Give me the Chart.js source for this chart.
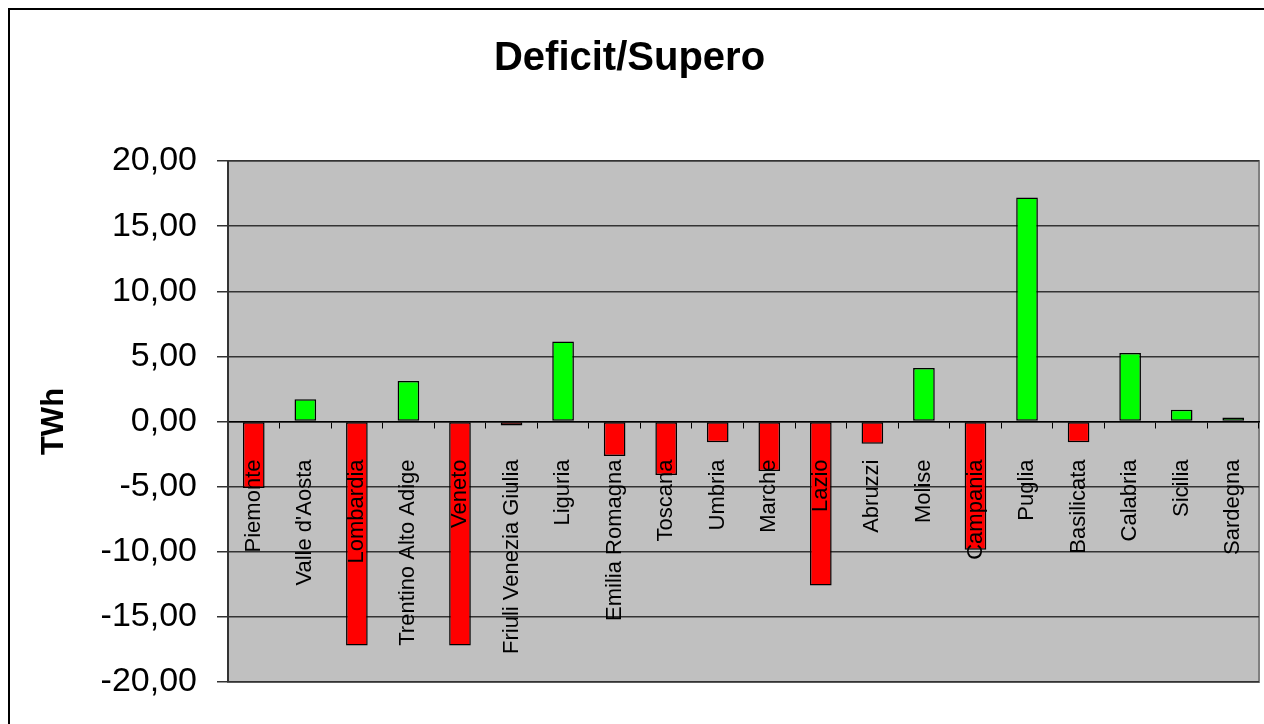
<!DOCTYPE html>
<html>
<head>
<meta charset="utf-8">
<script src="https://cdn.jsdelivr.net/npm/chart.js@4"></script>
<style>
  html, body { margin: 0; padding: 0; background: #fff; }
  #wrap { width: 1264px; height: 724px; }
</style>
</head>
<body>
<div id="wrap"><canvas id="myChart" width="1264" height="724"></canvas></div>
<script>
// Deficit/Supero per regione (TWh)
const regions = [
  "Piemonte", "Valle d'Aosta", "Lombardia", "Trentino Alto Adige", "Veneto",
  "Friuli Venezia Giulia", "Liguria", "Emilia Romagna", "Toscana", "Umbria",
  "Marche", "Lazio", "Abruzzi", "Molise", "Campania",
  "Puglia", "Basilicata", "Calabria", "Sicilia", "Sardegna"
];
const balance = [
  -5.1, 1.7, -17.2, 3.1, -17.2,
  -0.3, 6.15, -2.65, -4.1, -1.6,
  -3.8, -12.6, -1.7, 4.1, -9.85,
  17.2, -1.6, 5.25, 0.9, 0.3
];
const yTicks = [-20, -15, -10, -5, 0, 5, 10, 15, 20];

const FONT = "'Liberation Sans', Arial, sans-serif";

// grey plot background + outer frame, like the old spreadsheet chart
const frame = {
  id: "frame",
  beforeDraw(chart) {
    const { ctx, chartArea } = chart;
    ctx.save();
    ctx.fillStyle = "#fff";
    ctx.fillRect(0, 0, chart.width, chart.height);
    ctx.strokeStyle = "#000";
    ctx.lineWidth = 2;
    ctx.strokeRect(9, 9, chart.width + 10, chart.height + 10);
    ctx.fillStyle = "#c0c0c0";
    ctx.fillRect(chartArea.left, chartArea.top, chartArea.right - chartArea.left, chartArea.bottom - chartArea.top);
    ctx.strokeStyle = "#808080";
    ctx.lineWidth = 2;
    ctx.strokeRect(chartArea.left, chartArea.top, chartArea.right - chartArea.left, chartArea.bottom - chartArea.top);
    ctx.restore();
  }
};

new Chart(document.getElementById("myChart"), {
  type: "bar",
  data: {
    labels: regions,
    datasets: [{
      label: "Deficit/Supero",
      data: balance,
      backgroundColor: balance.map(v => v < 0 ? "#ff0000" : "#00ff00"),
      borderColor: "#000",
      borderWidth: 1.5,
      borderSkipped: false,
      barPercentage: 0.42,
      categoryPercentage: 1
    }]
  },
  options: {
    responsive: false,
    animation: false,
    layout: { padding: { top: 9, left: 0, right: 5, bottom: 42 } },
    plugins: {
      legend: { display: false },
      tooltip: { enabled: false },
      title: {
        display: true,
        text: "Deficit/Supero",
        color: "#000",
        font: { family: FONT, size: 40, weight: "bold" },
        padding: { top: 26, bottom: 78 }
      }
    },
    scales: {
      x: {
        position: { y: 0 },
        afterFit(scale) { scale.paddingLeft = 0; scale.paddingRight = 0; },
        grid: { display: true, drawOnChartArea: false, tickLength: 6, color: "#000", lineWidth: 1 },
        border: { display: true, color: "#000", width: 1.5 },
        ticks: {
          z: 1,
          autoSkip: false,
          minRotation: 90,
          maxRotation: 90,
          padding: 32,
          color: "#000",
          font: { family: FONT, size: 22 }
        }
      },
      y: {
        min: -20,
        max: 20,
        afterFit(scale) { scale.width = 228; },
        afterBuildTicks(scale) { scale.ticks = yTicks.map(v => ({ value: v })); },
        grid: { color: "#333", lineWidth: 1.5, tickLength: 11 },
        border: { display: true, color: "#333", width: 2 },
        ticks: {
          padding: 20,
          color: "#000",
          font: { family: FONT, size: 34 },
          callback: v => v.toFixed(2).replace(".", ",")
        },
        title: {
          display: true,
          text: "TWh",
          color: "#000",
          font: { family: FONT, size: 31, weight: "bold" },
          padding: { top: 36, bottom: 0 }
        }
      }
    }
  },
  plugins: [frame]
});
</script>
</body>
</html>
